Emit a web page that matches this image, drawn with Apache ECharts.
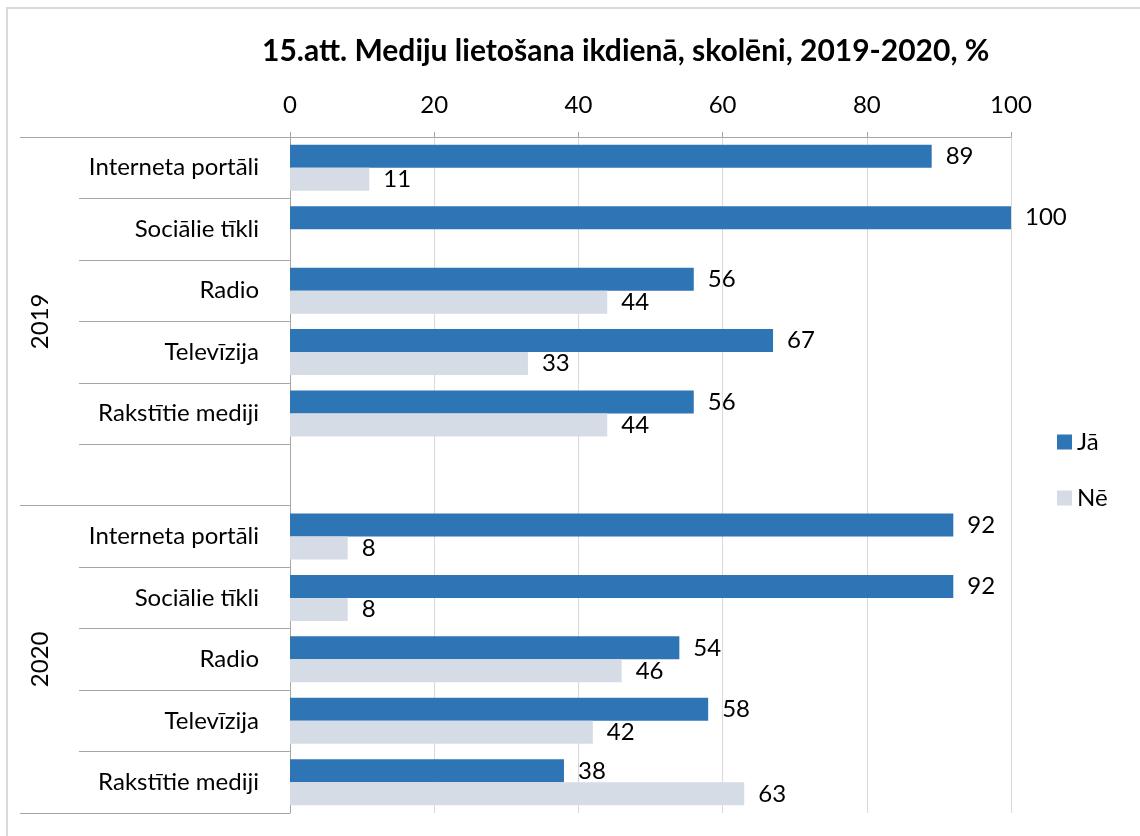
<!DOCTYPE html>
<html>
<head>
<meta charset="utf-8">
<script src="https://cdn.jsdelivr.net/npm/echarts@6/dist/echarts.min.js"></script>
<style>
html,body{margin:0;padding:0;background:#fff}
#main{width:1140px;height:836px}
</style>
</head>
<body>
<div id="main"></div>
<script>
// rindas: 2019 (5 + tukša rinda), 2020 (5)
var categories = ['Interneta portāli','Sociālie tīkli','Radio','Televīzija','Rakstītie mediji','',
                  'Interneta portāli','Sociālie tīkli','Radio','Televīzija','Rakstītie mediji'];
var ja = [89,100,56,67,56,null,92,92,54,58,38];
var ne = [11,0,44,33,44,null,8,8,46,42,63];
var years = ['2019','2020'];
var yearBounds = [0,6,11];      // grupu robežas (rindu indeksi)
var yearCenters = [3,8.5];
var xTicks = [0,20,40,60,80,100];

var font = 'Lato';
var fs = 24;
var myChart = echarts.init(document.getElementById('main'));

var option = {
    animation: false,
    textStyle: {fontFamily: font},
    title: {
        text: '15.att. Mediju lietošana ikdienā, skolēni, 2019-2020, %',
        left: 257, top: 31,
        textStyle: {fontFamily: font, fontSize: 30, fontWeight: 'bold', color: '#000'}
    },
    legend: {
        orient: 'vertical',
        left: 1052, top: 425,
        itemWidth: 15, itemHeight: 15, itemGap: 32,
        icon: 'rect',
        textStyle: {fontFamily: font, fontSize: fs, color: '#000'},
        data: ['Jā','Nē']
    },
    grid: {left: 290, right: 129, top: 137, bottom: 23, containLabel: false},
    xAxis: {
        type: 'value', position: 'top',
        min: xTicks[0], max: xTicks[xTicks.length-1], interval: 20,
        axisLine: {show: true, lineStyle: {color: '#a6a6a6'}},
        axisTick: {show: true, length: 5, lineStyle: {color: '#a6a6a6'}},
        axisLabel: {fontFamily: font, fontSize: fs, color: '#000', margin: 20},
        splitLine: {show: true, lineStyle: {color: '#d9d9d9'}}
    },
    yAxis: [{
        type: 'category', inverse: true, data: categories,
        axisLine: {show: true, lineStyle: {color: '#a6a6a6'}},
        axisTick: {show: true, interval: 0, length: 211, lineStyle: {color: '#a6a6a6'}},
        axisLabel: {interval: 0, fontFamily: font, fontSize: fs, color: '#000', margin: 31}
    }, {
        type: 'value', inverse: true, min: 0, max: 11, position: 'left', offset: 211,
        axisLine: {show: false},
        splitLine: {show: false},
        axisTick: {show: true, customValues: yearBounds, length: 59, lineStyle: {color: '#a6a6a6'}},
        axisLabel: {
            customValues: yearCenters, rotate: 90, margin: 27,
            fontFamily: font, fontSize: fs, color: '#000',
            formatter: function(v){ return v < yearBounds[1] ? years[0] : years[1]; }
        }
    }],
    graphic: [{
        type: 'rect', silent: true,
        shape: {x: 7, y: 8, width: 1300, height: 1000},
        style: {fill: 'none', stroke: '#d9d9d9', lineWidth: 2}
    }],
    series: [{
        name: 'Jā', type: 'bar', data: ja,
        barWidth: 23, barGap: '0%',
        itemStyle: {color: '#2E75B6'},
        label: {show: true, position: 'right', distance: 14, fontFamily: font, fontSize: fs, color: '#000'}
    }, {
        name: 'Nē', type: 'bar', data: ne,
        barWidth: 23, barGap: '0%',
        itemStyle: {color: '#D6DCE5'},
        label: {show: true, position: 'right', distance: 14, fontFamily: font, fontSize: fs, color: '#000',
                formatter: function(p){ return p.value ? p.value : ''; }}
    }]
};

myChart.setOption(option);
</script>
</body>
</html>
